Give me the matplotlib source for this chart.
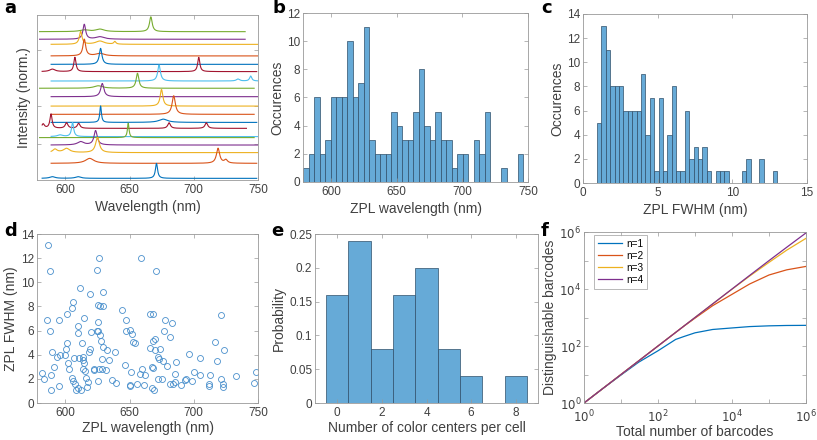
import numpy as np
import matplotlib.pyplot as plt

plt.rcParams['font.family'] = ['Liberation Sans', 'DejaVu Sans']

# ---------------- data ----------------
# a: stacked spectra, listed from the top trace to the bottom one
spec_colors = ['#77AC30', '#7E2F8E', '#EDB120', '#D95319', '#0072BD', '#A2142F', '#4DBEEE',
               '#77AC30', '#7E2F8E', '#EDB120', '#D95319', '#0072BD', '#A2142F', '#4DBEEE',
               '#77AC30', '#7E2F8E', '#EDB120', '#D95319', '#0072BD']
spec_base = [0.899, 0.853, 0.822, 0.752, 0.701, 0.657, 0.600, 0.556, 0.505, 0.448,
             0.398, 0.349, 0.313, 0.263, 0.257, 0.212, 0.166, 0.101, 0.010]
spec_start = [580, 580, 589, 589, 589, 582, 589, 580, 589, 589,
              589, 589, 582, 589, 580, 589, 589, 589, 582]
spec_end = [740, 740, 750, 750, 750, 749, 750, 747, 750, 750,
            747, 749, 741, 750, 747, 750, 750, 749, 749]
# peaks per trace: (centre nm, height, fwhm nm)
spec_peaks = [
    [(666.6, 0.090, 2.5), (614.8, 0.010, 8), (627.0, 0.015, 8)],
    [(614.8, 0.090, 2.5), (627.0, 0.015, 8)],
    [(612.0, 0.077, 2.5), (627.0, 0.020, 8), (638.6, 0.016, 2)],
    [(614.8, 0.101, 2.5), (627.0, 0.015, 8)],
    [(627.5, 0.097, 2.5)],
    [(607.5, 0.087, 2.0), (703.9, 0.087, 2.0), (590.0, 0.015, 5)],
    [(673.0, 0.097, 2.5), (734.4, 0.012, 3), (744.3, 0.030, 2)],
    [(656.2, 0.091, 2.5), (625.7, 0.015, 8)],
    [(628.8, 0.080, 3.0)],
    [(674.9, 0.101, 2.5)],
    [(684.4, 0.113, 3.0)],
    [(627.5, 0.100, 1.5), (676.2, 0.020, 8)],
    [(582.8, 0.026, 2.5), (588.9, 0.087, 2.0), (601.0, 0.034, 2.5), (610.4, 0.030, 2.5),
     (680.8, 0.034, 2.5), (709.8, 0.034, 2.5)],
    [(605.7, 0.085, 2.0), (596.0, 0.010, 5)],
    [(649.0, 0.087, 1.5)],
    [(623.6, 0.087, 3.0), (612.0, 0.020, 6)],
    [(625.1, 0.093, 3.5), (601.0, 0.025, 6), (592.0, 0.020, 4)],
    [(718.9, 0.091, 3.0), (619.0, 0.030, 8), (725.0, 0.020, 3)],
    [(671.0, 0.091, 2.0), (590.0, 0.010, 5), (610.0, 0.010, 5)],
]

# b: ZPL wavelength histogram (40 bins)
b_edge0, b_width = 578.5, 4.2
b_counts = [1, 2, 6, 2, 3, 6, 6, 6, 10, 6, 7, 11, 3, 2, 2, 2, 5, 4, 3, 3,
            5, 8, 4, 3, 5, 3, 3, 1, 2, 2, 0, 3, 2, 5, 0, 0, 1, 0, 0, 2]

# c: ZPL FWHM histogram (41 bins)
c_edge0, c_width = 0.94, 0.294
c_counts = [5, 13, 11, 8, 8, 8, 6, 6, 6, 6, 9, 4, 7, 1, 7, 1, 4, 8, 1, 1, 6,
            2, 3, 2, 3, 1, 0, 1, 1, 1, 0, 0, 0, 1, 2, 0, 0, 2, 0, 0, 1]

# d: FWHM vs wavelength
zpl_wl = [581.6, 583.4, 586.8, 586.0, 588.1, 588.1, 588.6, 588.9, 589.4, 591.2, 593.3, 595.4,
          595.9, 595.1, 599.8, 601.1, 600.5, 601.6, 602.3, 603.1, 605.5, 606.2, 605.5, 606.2,
          607.0, 607.5, 608.3, 609.6, 610.1, 610.6, 610.1, 611.4, 611.9, 612.7, 613.5, 613.5,
          614.0, 614.5, 614.8, 615.3, 616.1, 616.6, 617.9, 618.7, 619.2, 620.0, 619.5, 622.5,
          622.7, 624.4, 626.2, 625.7, 625.7, 625.0, 625.5, 627.0, 625.1, 626.2, 627.0, 629.0,
          627.5, 628.3, 628.8, 629.5, 629.5, 631.6, 632.6, 633.9, 636.0, 638.6, 639.4, 644.0,
          647.2, 646.4, 647.2, 650.3, 651.0, 650.3, 650.3, 651.8, 652.4, 654.0, 655.9, 657.8,
          658.6, 660.1, 661.9, 661.2, 665.8, 668.4, 670.5, 677.5, 683.4, 677.0, 681.9, 670.2,
          668.4, 665.8, 673.6, 669.7, 672.3, 673.0, 676.2, 679.3, 686.0, 667.6, 668.0, 671.8,
          674.9, 667.8, 669.0, 685.7, 681.9, 684.0, 685.2, 689.9, 693.0, 694.3, 696.1, 699.0,
          700.3, 705.2, 704.7, 711.6, 711.6, 712.9, 716.5, 718.1, 721.0, 721.2, 722.8, 722.8,
          723.3, 733.2, 746.6, 748.2]
zpl_fwhm = [2.5, 1.95, 13.05, 6.85, 10.95, 6.0, 1.1, 2.35, 4.25, 2.95, 3.85, 6.85,
            4.0, 1.4, 4.0, 7.35, 4.45, 4.95, 3.3, 2.8, 7.9, 8.35, 2.05, 1.8,
            3.7, 1.55, 1.05, 6.4, 5.8, 3.7, 1.25, 9.55, 1.05, 4.95, 3.85, 2.8,
            3.6, 7.05, 3.35, 2.65, 2.05, 1.3, 1.7, 4.25, 9.0, 5.9, 4.45, 2.8,
            2.75, 11.05, 12.05, 8.1, 6.75, 6.0, 6.0, 5.65, 1.8, 2.85, 8.05, 8.0,
            5.1, 3.65, 2.8, 9.2, 4.6, 2.75, 4.4, 3.6, 1.9, 4.2, 1.65, 7.7,
            6.9, 3.15, 6.0, 6.05, 2.55, 1.5, 1.4, 5.75, 5.05, 5.0, 1.55, 2.4,
            12.0, 2.8, 2.3, 1.5, 7.4, 7.4, 10.9, 6.9, 6.65, 6.0, 5.5, 5.3,
            5.1, 4.55, 4.5, 4.35, 3.85, 3.65, 3.45, 3.1, 3.4, 3.0, 2.9, 1.95,
            2.0, 1.25, 1.1, 2.4, 1.55, 1.6, 1.7, 1.5, 1.9, 1.95, 4.1, 1.85,
            2.55, 3.75, 2.3, 1.6, 1.4, 2.3, 5.05, 3.45, 7.25, 2.0, 1.6, 1.35,
            4.35, 2.2, 1.65, 2.6]

# e: number of color centers per cell
e_n = [0, 1, 2, 3, 4, 5, 6, 7, 8]
e_prob = [0.16, 0.24, 0.08, 0.16, 0.20, 0.08, 0.04, 0.0, 0.04]

# f: distinguishable barcodes
f_total = [1, 3, 10, 30, 100, 300, 500, 1e3, 3e3, 1e4, 3e4, 1e5, 3e5, 1e6]
f_n1 = [1, 3, 9.6, 27, 68, 170, 215, 290, 380, 430, 480, 510, 525, 530]
f_n2 = [1, 3, 10, 30, 100, 298, 495, 950, 2600, 6500, 15000, 31000, 47000, 62000]
f_n3 = [1, 3, 10, 30, 100, 300, 500, 1e3, 2990, 9800, 28500, 86000, 230000, 600000]
f_n4 = [1, 3, 10, 30, 100, 300, 500, 1e3, 3e3, 1e4, 3e4, 99000, 290000, 930000]
f_labels = ['n=1', 'n=2', 'n=3', 'n=4']
f_colors = ['#0072BD', '#D95319', '#EDB120', '#7E2F8E']

# ---------------- styling ----------------
hist_face = '#66AAD7'
hist_edge = '#2f4f6a'
txt = '#404040'
box = '#999999'


def matlab_style(ax):
    ax.tick_params(direction='in', top=True, right=True, length=3, width=0.5,
                   colors=box, labelcolor=txt, labelsize=8.5)
    ax.tick_params(axis='x', pad=3)
    ax.tick_params(axis='y', pad=2)
    for s in ax.spines.values():
        s.set_color(box)
        s.set_linewidth(0.6)


fig = plt.figure(figsize=(8.17, 4.40), dpi=100)
W, H = 817., 440.


def add_ax(l, t, r, b):
    return fig.add_axes([l / W, 1 - b / H, (r - l) / W, (b - t) / H])


lab = dict(fontsize=10, color=txt)

# a
ax1 = add_ax(37, 15, 258, 180)
for i in range(len(spec_base)):
    x = np.arange(spec_start[i], spec_end[i] + 0.01, 0.25)
    y = np.full_like(x, spec_base[i])
    for c, h, w in spec_peaks[i]:
        y = y + h / (1 + ((x - c) / (w / 2.)) ** 2)
    ax1.plot(x, y, color=spec_colors[i], lw=0.8)
ax1.set_xlim(578, 750)
ax1.set_ylim(0, 1)
ax1.set_xticks([600, 650, 700, 750])
ax1.set_yticks([0.22, 0.45, 0.79])
ax1.set_yticklabels([])
ax1.set_xlabel('Wavelength (nm)', labelpad=2.5, **lab)
ax1.set_ylabel('Intensity (norm.)', labelpad=2, **lab)
matlab_style(ax1)

# b
ax2 = add_ax(303, 13, 528, 182)
b_left = b_edge0 + b_width * np.arange(len(b_counts))
b_cnt = np.array(b_counts)
ax2.bar(b_left[b_cnt > 0], b_cnt[b_cnt > 0], width=b_width, align='edge',
        color=hist_face, edgecolor=hist_edge, linewidth=0.5)
ax2.set_xlim(578.5, 750)
ax2.set_ylim(0, 12)
ax2.set_xticks([600, 650, 700, 750])
ax2.set_yticks(range(0, 13, 2))
ax2.set_xlabel('ZPL wavelength (nm)', labelpad=2.5, **lab)
ax2.set_ylabel('Occurences', labelpad=2, **lab)
matlab_style(ax2)

# c
ax3 = add_ax(583, 14, 807, 183)
c_left = c_edge0 + c_width * np.arange(len(c_counts))
c_cnt = np.array(c_counts)
ax3.bar(c_left[c_cnt > 0], c_cnt[c_cnt > 0], width=c_width, align='edge',
        color=hist_face, edgecolor=hist_edge, linewidth=0.5)
ax3.set_xlim(0, 15)
ax3.set_ylim(0, 14)
ax3.set_xticks([0, 5, 10, 15])
ax3.set_yticks(range(0, 15, 2))
ax3.set_xlabel('ZPL FWHM (nm)', labelpad=2.5, **lab)
ax3.set_ylabel('Occurences', labelpad=2, **lab)
matlab_style(ax3)

# d
ax4 = add_ax(37, 234, 258, 403)
ax4.plot(zpl_wl, zpl_fwhm, 'o', mfc='none', mec='#4a90cc', ms=4.3, mew=0.6)
ax4.set_xlim(578, 750)
ax4.set_ylim(0, 14)
ax4.set_xticks([600, 650, 700, 750])
ax4.set_yticks(range(0, 15, 2))
ax4.set_xlabel('ZPL wavelength (nm)', labelpad=1, **lab)
ax4.set_ylabel('ZPL FWHM (nm)', labelpad=2, **lab)
matlab_style(ax4)

# e
ax5 = add_ax(315, 234, 538, 403)
e_p = np.array(e_prob)
e_x = np.array(e_n)
ax5.bar(e_x[e_p > 0], e_p[e_p > 0], width=1.0, color=hist_face,
        edgecolor=hist_edge, linewidth=0.5)
ax5.set_xlim(-1, 9)
ax5.set_ylim(0, 0.25)
ax5.set_xticks([0, 2, 4, 6, 8])
ax5.set_yticks([0, 0.05, 0.1, 0.15, 0.2, 0.25])
ax5.set_yticklabels(['0', '0.05', '0.1', '0.15', '0.2', '0.25'])
ax5.set_xlabel('Number of color centers per cell', labelpad=1, **lab)
ax5.set_ylabel('Probability', labelpad=2, **lab)
matlab_style(ax5)

# f
ax6 = add_ax(584, 232, 806, 403)
for yy, l, c in zip([f_n1, f_n2, f_n3, f_n4], f_labels, f_colors):
    ax6.loglog(f_total, yy, color=c, lw=0.9, label=l)
ax6.set_xlim(1, 1e6)
ax6.set_ylim(1, 1e6)
ax6.set_xticks([10.0 ** k for k in range(7)])
ax6.set_xticklabels(['$10^{%d}$' % k if k % 2 == 0 else '' for k in range(7)])
ax6.set_yticks([10.0 ** k for k in range(7)])
ax6.set_yticklabels(['$10^{%d}$' % k if k % 2 == 0 else '' for k in range(7)])
ax6.minorticks_off()
ax6.set_xlabel('Total number of barcodes', labelpad=0, **lab)
ax6.set_ylabel('Distinguishable barcodes', labelpad=2, **lab)
matlab_style(ax6)
ax6.tick_params(axis='x', pad=4)
leg = ax6.legend(loc='upper left', fontsize=7.2, frameon=True, fancybox=False,
                 handlelength=2.4, handletextpad=0.4, borderpad=0.4, labelspacing=0.2,
                 borderaxespad=0, bbox_to_anchor=(0.045, 0.985))
leg.get_frame().set_edgecolor(box)
leg.get_frame().set_linewidth(0.6)

# panel letters
for s, (px, py) in zip('abcdef', [(4, 13), (272, 13), (541, 13), (4, 236), (271, 236), (541, 236)]):
    fig.text(px / W, 1 - py / H, s, fontsize=13, fontweight='bold', va='baseline',
             family=['DejaVu Sans'])

fig.savefig('out.png', dpi=100)
